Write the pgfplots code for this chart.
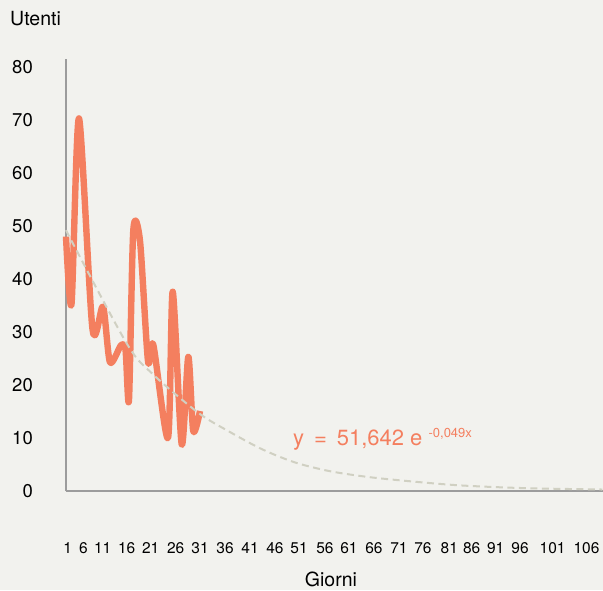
\documentclass[border=0pt]{standalone}
\usepackage{pgfplots}
\pgfplotsset{compat=1.18}
\usepackage{fontspec}
\setmainfont{TeX Gyre Heros}

\definecolor{sfondo}{HTML}{F2F2EE}
\definecolor{arancio}{HTML}{F47F5F}
\definecolor{tendenza}{HTML}{D0D0C2}
\definecolor{asse}{HTML}{9C9C9C}

\begin{document}
\begin{tikzpicture}
\useasboundingbox[fill=sfondo] (0pt,0pt) rectangle (603pt,590pt);
\begin{axis}[
  at={(66pt,99pt)}, anchor=south west,
  scale only axis,
  width=537pt, height=431.7pt,
  xmin=1, xmax=110.15,
  ymin=0, ymax=81.45,
  axis lines=left,
  axis line style={asse, line width=1.5pt, -},
  major tick length=0pt,
  ytick={0,10,...,80},
  xtick={1.35,4.52,8.46,13.34,18.22,23.30,28.24,33.32,38.40,43.48,48.36,53.64,58.52,63.60,68.68,73.56,78.91,83.46,88.34,93.28,99.9,106.8},
  xticklabels={1,6,11,16,21,26,31,36,41,46,51,56,61,66,71,76,81,86,91,96,101,106},
  /pgf/number format/assume math mode=true,
  yticklabel style={font=\fontsize{18.5}{20}\selectfont, inner sep=0pt, anchor=east, xshift=-33pt},
  xticklabel style={font=\fontsize{15.5}{17}\selectfont, inner sep=0pt, anchor=center, yshift=-57pt},
  clip=false,
]
% utenti giornalieri
\addplot[arancio, line width=6.4pt, line join=round, smooth, tension=0.45] coordinates {
  (1.0,48) (2.12,35.3) (3.64,70.3) (6.39,30.5) (8.52,34.8) (9.94,24.3)
  (12.18,27.5) (13.1,26.6) (13.8,17.2) (14.68,49.2) (16.04,47.2) (17.67,24.5)
  (18.74,27.6) (21.73,10) (22.69,37.6) (24.52,8.8) (25.86,25.3) (26.87,11.3)
  (28.24,15.1)
};
% curva esponenziale
\addplot[tendenza, line width=2pt, dash pattern=on 7pt off 4.5pt, smooth] coordinates {
  (1,49.2) (13.3,27.9) (18.7,22) (27.9,14.75) (34.0,11.3) (40.8,7.9)
  (47.5,5.4) (54.3,3.8) (61.1,2.8) (67.9,2.1) (80.4,1.1) (93.9,0.55) (110,0.28)
};
\end{axis}
\node[anchor=base west, inner sep=0pt, font=\fontsize{19.5}{21}\selectfont] at (10pt,564.3pt) {Utenti};
\node[anchor=base, inner sep=0pt, font=\fontsize{19.5}{21}\selectfont] at (331pt,3.5pt) {Giorni};
\node[anchor=base west, inner sep=0pt, text=arancio, font=\fontsize{22}{24}\selectfont] at (293pt,145pt)
  {y\hspace{0.45em}=\hspace{0.45em}51,642 e \raisebox{7.5pt}{\fontsize{13}{14}\selectfont -0,049x}};
\end{tikzpicture}
\end{document}
